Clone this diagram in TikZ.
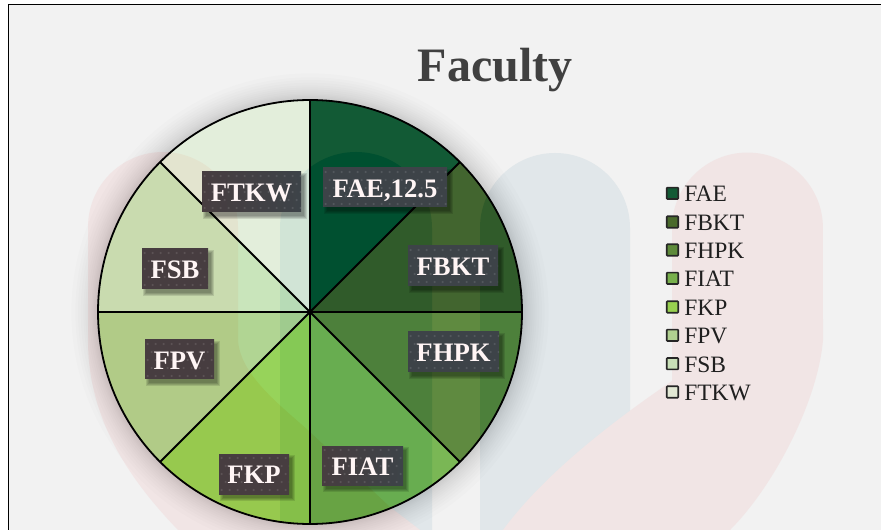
\documentclass[tikz,border=0pt]{standalone}
\usepackage{fontspec}
\setmainfont{Liberation Serif}
\definecolor{bgc}{HTML}{F2F2F2}
\definecolor{pinkc}{HTML}{F1E5E5}
\definecolor{bluec}{HTML}{E1E7EA}
\definecolor{dpink}{RGB}{0,10,12}
\definecolor{dblue}{RGB}{18,10,5}
\definecolor{sa}{HTML}{125A35}
\definecolor{sb}{HTML}{42652F}
\definecolor{sc}{HTML}{5F8A40}
\definecolor{sd}{HTML}{7AB755}
\definecolor{se}{HTML}{97D35A}
\definecolor{sf}{HTML}{B1D593}
\definecolor{sg}{HTML}{C9E5BB}
\definecolor{sh}{HTML}{E3EEDB}
\definecolor{lb}{HTML}{4A6A2C}
\definecolor{lc}{HTML}{5E8A3A}
\definecolor{ld}{HTML}{78B04C}
\definecolor{le}{HTML}{98D050}
\definecolor{lf}{HTML}{B0D090}
\definecolor{lg}{HTML}{C8E0B8}
\definecolor{lh}{HTML}{E2E8D4}
\definecolor{boxp}{HTML}{473D40}
\definecolor{boxb}{HTML}{3D4348}
\tikzset{
  spoke/.style={draw=black,line width=1.35pt},
  swatch/.style={draw=black!85,line width=1.2pt,fill=#1,minimum size=8.6pt,inner sep=0pt,rounded corners=0.5pt},
  legendtext/.style={anchor=base west,inner sep=0pt,font=\fontsize{17.6}{20}\selectfont,text=black!88},
  datalabel/.style 2 args={left color=#1,right color=#2,text=white!96!red,
    font=\fontsize{20}{24}\selectfont\bfseries,inner sep=0pt,text height=13.2pt,text depth=0pt,align=center,
    path picture={\foreach \i in {0,...,15}\foreach \j in {0,...,5}{
      \pgfmathsetmacro{\st}{mod(\j,2)*3}
      \fill[white,opacity=.11] ([xshift={(\i*6+\st+2)*1pt},yshift={-(\j*6+3)*1pt}]path picture bounding box.north west) circle (.9pt);}}},
  title/.style={font=\fontsize{36}{40}\selectfont\bfseries,text=black!75,anchor=base,inner sep=0pt}
}
\def\bluepath{(280,228) arc[start angle=180,end angle=0,radius=57pt] -- (432,530) -- (280,530) -- cycle
  (480,228) arc[start angle=180,end angle=0,radius=56.25pt] -- (630,530) -- (480,530) -- cycle}
\def\pinkpath{(88,227) arc[start angle=180,end angle=0,radius=56.25pt] -- (238,340)
   .. controls (240,375) and (280,405) .. (310,432) -- (390,507) -- (420,530) -- (178,530)
   .. controls (130,480) and (88,420) .. (88,340) -- cycle
  (672,228) arc[start angle=180,end angle=0,radius=56.6pt] -- (823,340)
   .. controls (818,400) and (775,485) .. (730,530) -- (503,530)
   .. controls (540,480) and (600,430) .. (672,381) -- cycle}
\newcommand{\labelbox}[8]{%
  \foreach \g in {0,1,2,3}
    \fill[black,opacity=.11] ({#2+4-\g},{#3+4-\g}) rectangle ({#4+3+\g},{#5+4+\g});
  \node[datalabel={#6}{#7},minimum width={(#4-#2)*0.75pt},minimum height={(#5-#3)*0.75pt}]
    (lab#1) at ({(#2+#4)/2},{(#3+#5)/2}) {\raisebox{-0.6pt}{#8}};}
\newcommand{\legendrow}[4]{%
  \node[swatch=#2] (sw#1) at (672.5,#3) {};
  \node[legendtext] (lt#1) at (684,{#3+8.4}) {#4};}
\begin{document}
\begin{tikzpicture}[x=0.75pt,y=-0.75pt]
\useasboundingbox (0,0) rectangle (881,530);
\fill[white] (0,0) rectangle (881,530);
\fill[bgc] (8.5,4.5) rectangle (881,530);
% watermark
\fill[bluec] \bluepath;
\fill[pinkc] \pinkpath;
\draw[black,line width=1.3pt] (8.5,530) -- (8.5,4.5) -- (881,4.5);
% glow of the pie
\coordinate (c) at (310,312);
\foreach \r in {160,161,162,163,164,165.5,167,168.5,170,172,174,176,179}
  \fill[black,opacity=.011] (c) circle (\r pt);
% pie
\begin{scope}[shift={(c)}]
  \fill[sa] (0,0) -- (90:159pt) arc[start angle=90,end angle=45,radius=159pt] -- cycle;
  \fill[sb] (0,0) -- (45:159pt) arc[start angle=45,end angle=0,radius=159pt] -- cycle;
  \fill[sc] (0,0) -- (0:159pt) arc[start angle=0,end angle=-45,radius=159pt] -- cycle;
  \fill[sd] (0,0) -- (-45:159pt) arc[start angle=-45,end angle=-90,radius=159pt] -- cycle;
  \fill[se] (0,0) -- (-90:159pt) arc[start angle=-90,end angle=-135,radius=159pt] -- cycle;
  \fill[sf] (0,0) -- (-135:159pt) arc[start angle=-135,end angle=-180,radius=159pt] -- cycle;
  \fill[sg] (0,0) -- (180:159pt) arc[start angle=180,end angle=135,radius=159pt] -- cycle;
  \fill[sh] (0,0) -- (135:159pt) arc[start angle=135,end angle=90,radius=159pt] -- cycle;
\end{scope}
\begin{scope}
  \clip (c) circle (159pt);
  \fill[dblue,blend mode=difference] \bluepath;
  \fill[dpink,blend mode=difference] \pinkpath;
\end{scope}
\begin{scope}[shift={(c)}]
  \foreach \a in {0,45,...,315}
    \draw[spoke] (0,0) -- (\a:159pt);
  \draw[spoke] (0,0) circle (159pt);
\end{scope}
% data labels
\labelbox{a}{323}{168}{447}{207}{boxb}{boxb}{FAE,12.5}
\labelbox{b}{408}{246}{498}{286}{boxb}{boxb}{FBKT}
\labelbox{c}{408}{332}{499}{372}{boxb}{boxb}{FHPK}
\labelbox{d}{322}{446}{403}{485}{boxp}{boxb}{FIAT}
\labelbox{e}{219}{454}{289}{494}{boxp}{boxp}{FKP}
\labelbox{f}{145}{340}{214}{379}{boxp}{boxp}{FPV}
\labelbox{g}{142}{249}{208}{289}{boxp}{boxp}{FSB}
\labelbox{h}{202}{172}{301}{212}{boxp}{boxb}{FTKW}
% title
\node[title] (ttl) at (495,82) {Faculty};
% legend
\legendrow{a}{sa}{193.3}{FAE}
\legendrow{b}{lb}{222}{FBKT}
\legendrow{c}{lc}{250}{FHPK}
\legendrow{d}{ld}{278.3}{FIAT}
\legendrow{e}{le}{307}{FKP}
\legendrow{f}{lf}{335.3}{FPV}
\legendrow{g}{lg}{363.7}{FSB}
\legendrow{h}{lh}{392}{FTKW}
\end{tikzpicture}
\end{document}
